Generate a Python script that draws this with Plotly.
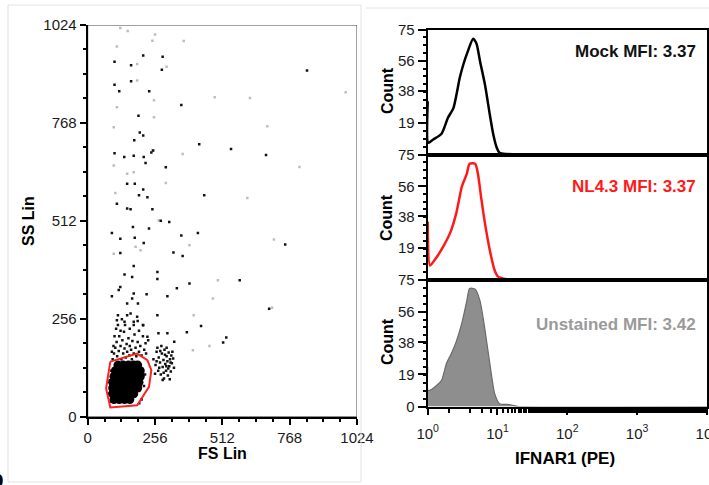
import plotly.graph_objects as go

W, H = 709, 485

# ---- scatter (FS Lin vs SS Lin) ----
# dense core of the gated population
core_fs = [100, 120, 140, 160,
           95, 115, 135, 155, 175,
           95, 115, 135, 155, 175, 190,
           95, 115, 135, 155, 175, 195,
           100, 120, 140, 160, 180, 200,
           105, 125, 145, 165, 185, 200,
           115, 135, 155, 175, 190]
core_ss = [45, 45, 45, 45,
           60, 60, 60, 60, 60,
           75, 75, 75, 75, 75, 75,
           90, 90, 90, 90, 90, 90,
           105, 105, 105, 105, 105, 105,
           120, 120, 120, 120, 120, 120,
           135, 135, 135, 135, 135]

# cells around the core and the small cluster to its right
near_fs = [250, 258, 262, 268, 270, 275, 278, 282, 285, 288, 290, 292, 295, 298, 300,
           303, 305, 308, 310, 313, 316, 318, 320, 325, 328, 256, 265, 280, 300, 312,
           285, 272, 294, 306, 262, 276, 289, 299, 315, 322,
           95, 100, 105, 110, 112, 118, 120, 125, 128, 132, 135, 138, 140, 145, 148,
           150, 155, 158, 160, 165, 168, 170, 175, 178, 182, 185, 190, 195, 200, 205,
           210, 215, 220, 102, 108, 115, 125, 98, 92, 142, 160, 175, 195, 130, 115,
           150, 190, 210, 222, 230, 82, 84, 88, 214, 218, 205, 90, 196]
near_ss = [150, 135, 170, 120, 155, 142, 110, 165, 130, 148, 100, 175, 138, 120, 158,
           145, 108, 168, 132, 150, 118, 160, 140, 152, 128, 112, 180, 185, 180, 98,
           96, 128, 162, 126, 145, 172, 115, 132, 142, 170,
           150, 165, 180, 195, 158, 172, 210, 185, 150, 200, 165, 222, 178, 155, 190,
           170, 205, 160, 185, 175, 150, 198, 165, 215, 180, 158, 195, 170, 185, 160,
           210, 175, 192, 210, 230, 240, 225, 185, 170, 240, 230, 240, 225, 255, 265,
           265, 250, 240, 165, 200, 60, 95, 40, 80, 110, 45, 120, 35]

# sparse events
spark_fs = [102, 211, 285, 282, 165, 102, 120, 234, 165, 356, 834, 193, 211, 198, 177,
            424, 545, 678, 102, 139, 175, 213, 220, 297, 249, 242, 150, 179, 211, 195,
            227, 443, 111, 150, 163, 246, 278, 310, 92, 124, 172, 179, 213, 233, 356,
            419, 751, 326, 361, 124, 175, 169, 140, 265, 265, 387, 578, 118, 175, 169,
            150, 191, 224, 339, 92, 124, 303, 690, 163, 175, 140, 188, 211, 265, 111,
            377, 431, 515, 527, 303, 269, 329, 227]
spark_ss = [928, 944, 941, 907, 919, 868, 851, 851, 877, 815, 905, 787, 735, 743, 723,
            712, 700, 684, 689, 679, 682, 679, 663, 652, 696, 691, 609, 609, 594, 579,
            574, 579, 557, 544, 542, 542, 512, 509, 480, 465, 496, 468, 454, 492, 474,
            480, 450, 429, 420, 428, 394, 365, 372, 378, 360, 348, 357, 331, 322, 309,
            296, 296, 320, 336, 315, 339, 315, 282, 270, 248, 248, 261, 239, 265, 252,
            221, 237, 194, 207, 218, 218, 196, 209]

faint_fs = [124, 152, 256, 365, 111, 246, 188, 300, 188, 483, 617, 981, 252, 111, 252,
            683, 99, 246, 361, 805, 99, 150, 175, 297, 607, 105, 708, 270, 182, 201,
            99, 387, 495, 476, 403, 463, 400, 701]
faint_ss = [1016, 1008, 999, 982, 968, 983, 922, 915, 879, 835, 833, 848, 827, 809, 783,
            759, 757, 696, 687, 653, 657, 635, 639, 611, 572, 585, 463, 513, 444, 435,
            426, 448, 357, 309, 265, 185, 174, 285]

# gate polygon
gate_fs = [86, 188, 227, 242, 233, 188, 86, 70, 86]
gate_ss = [144, 165, 148, 122, 78, 30, 24, 74, 144]

# ---- histograms (IFNAR1 PE) ----
mock_x = [1.00, 1.02, 1.20, 1.58, 1.95, 2.34, 2.88, 3.24, 3.80, 4.47, 5.01, 5.62,
          6.61, 7.76, 8.71, 9.77, 10.7, 13.5, 20, 10000]
mock_y = [32, 7, 9, 12.5, 22, 28, 46, 54, 62.5, 69.5, 66.5, 56,
          42, 24, 12, 4, 1, 0.3, 0, 0]

nl43_x = [1.00, 1.08, 1.35, 1.66, 2.09, 2.57, 3.09, 3.63, 3.98, 4.79, 5.25, 5.89,
          6.61, 7.76, 9.12, 10.2, 13.5, 20, 10000]
nl43_y = [35, 8.7, 13.8, 19.8, 28, 40, 56, 63.4, 69.5, 69.5, 63.4, 48,
          34, 17.8, 5.7, 2, 0.5, 0, 0]

unst_x = [1.00, 1.01, 1.07, 1.35, 1.58, 1.86, 2.19, 2.57, 3.09, 3.63, 3.98, 4.79,
          5.62, 6.61, 7.76, 9.12, 10.7, 14.8, 20, 10000]
unst_y = [23.6, 9.6, 9.6, 12.6, 15.6, 25.6, 31.6, 38.6, 49.6, 62.6, 70, 69.6,
          62.6, 45.6, 25.6, 7.6, 1.6, 1.2, 0, 0]

count_ticks = [0, 19, 38, 56, 75]
lin_ticks = [0, 256, 512, 768, 1024]
log_ticks = [1, 10, 100, 1000, 10000]
log_text = ["10<sup>0</sup>", "10<sup>1</sup>", "10<sup>2</sup>", "10<sup>3</sup>", "10<sup>4</sup>"]

labels = ["Mock MFI: 3.37", "NL4.3 MFI: 3.37", "Unstained MFI: 3.42"]
label_colors = ["#111111", "#ff1a1a", "#9a9a9a"]

FONT = "Arial, Liberation Sans, sans-serif"


def px_x(v):
    return v / W


def px_y(v):
    return 1 - v / H


def label(text, x, y, size=16, color="#000", angle=0, xanchor="center", yanchor="middle"):
    fig.add_annotation(text=text, textangle=angle, xref="paper", yref="paper",
                       x=px_x(x), y=px_y(y), xanchor=xanchor, yanchor=yanchor,
                       showarrow=False, font=dict(family=FONT, size=size, color=color))


fig = go.Figure()

fig.add_trace(go.Scatter(x=faint_fs, y=faint_ss, mode="markers", xaxis="x", yaxis="y",
                         marker=dict(color="#bdbdbd", size=2.5, symbol="square"), hoverinfo="skip"))
fig.add_trace(go.Scatter(x=spark_fs, y=spark_ss, mode="markers", xaxis="x", yaxis="y",
                         marker=dict(color="#111111", size=2.5, symbol="square"), hoverinfo="skip"))
fig.add_trace(go.Scatter(x=near_fs, y=near_ss, mode="markers", xaxis="x", yaxis="y",
                         marker=dict(color="#111111", size=2.5, symbol="square"), hoverinfo="skip"))
fig.add_trace(go.Scatter(x=core_fs, y=core_ss, mode="markers", xaxis="x", yaxis="y",
                         marker=dict(color="#000000", size=9), hoverinfo="skip"))
fig.add_trace(go.Scatter(x=gate_fs, y=gate_ss, mode="lines", xaxis="x", yaxis="y",
                         line=dict(color="#ff2020", width=2), hoverinfo="skip"))

fig.add_trace(go.Scatter(x=mock_x, y=mock_y, mode="lines", xaxis="x2", yaxis="y2",
                         line=dict(color="#000000", width=2.5, shape="spline", smoothing=0.6),
                         hoverinfo="skip"))
fig.add_trace(go.Scatter(x=nl43_x, y=nl43_y, mode="lines", xaxis="x3", yaxis="y3",
                         line=dict(color="#ff1a1a", width=2.5, shape="spline", smoothing=0.6),
                         hoverinfo="skip"))
fig.add_trace(go.Scatter(x=unst_x, y=unst_y, mode="lines", xaxis="x4", yaxis="y4",
                         fill="tozeroy", fillcolor="#8e8e8e",
                         line=dict(color="#6a6a6a", width=1.2, shape="spline", smoothing=0.6),
                         hoverinfo="skip"))

tickfont = dict(family=FONT, size=15, color="#1a1a1a")

scatter_axis = dict(range=[0, 1024], tickvals=lin_ticks, ticks="outside", ticklen=6,
                    tickwidth=1.5, tickcolor="#000", linecolor="#000", linewidth=2,
                    showgrid=False, zeroline=False, tickfont=tickfont, automargin=False,
                    minor=dict(dtick=64, tick0=0, ticks="outside", ticklen=3, tickcolor="#000"))

fig.update_layout(
    width=W, height=H, margin=dict(l=0, r=0, t=0, b=0),
    paper_bgcolor="white", plot_bgcolor="white", showlegend=False,
    xaxis=dict(scatter_axis, domain=[px_x(87.7), px_x(357)], anchor="y"),
    yaxis=dict(scatter_axis, domain=[px_y(416.7), px_y(25)], anchor="x"),
)

# histogram panels, top to bottom
panels = [(29.5, 154.5), (154.5, 280), (280, 406.5)]
count_y = [91, 218, 342]
mfi_y = [52, 187, 324]
for i, (top, bot) in enumerate(panels):
    n = i + 2
    last = i == 2
    fig.update_layout({
        f"xaxis{n}": dict(type="log", range=[0, 4.002], domain=[px_x(427.7), px_x(707)],
                          anchor=f"y{n}", tickvals=log_ticks, ticktext=log_text,
                          showticklabels=last, ticks="outside" if last else "",
                          ticklen=6, tickwidth=1.5, tickcolor="#000", automargin=False,
                          ticklabelstandoff=6, ticklabeloverflow="allow",
                          minor=dict(ticks="outside" if last else "", ticklen=4, tickcolor="#000"),
                          linecolor="#000", linewidth=2.2, mirror=True,
                          showgrid=False, zeroline=False, tickfont=dict(tickfont, size=15)),
        f"yaxis{n}": dict(range=[0, 75], domain=[px_y(bot), px_y(top)], anchor=f"x{n}",
                          tickvals=count_ticks if last else count_ticks[1:],
                          ticks="outside", ticklen=8, tickwidth=1.5, tickcolor="#000",
                          minor=dict(dtick=4.6875, tick0=0, ticks="outside", ticklen=3, tickcolor="#000"),
                          linecolor="#000", linewidth=2.2, mirror=True, automargin=False,
                          showgrid=False, zeroline=False, tickfont=tickfont),
    })
    label("<b>Count</b>", 387, count_y[i], angle=-90)
    label(f"<b>{labels[i]}</b>", 698, mfi_y[i], size=17, color=label_colors[i], xanchor="right")

# axis titles
label("<b>SS Lin</b>", 29, 221, angle=-90)
label("<b>FS Lin</b>", 222, 453)
label("<b>IFNAR1 (PE)</b>", 565, 458, size=17)
# cropped panel letter at the bottom-left
label("<b>b</b>", 6, 463, size=24, xanchor="right", yanchor="top")

# thin box on the scatter plot and the light panel frames
fig.add_shape(type="rect", xref="x", yref="y", x0=0, x1=1024, y0=0, y1=1024,
              line=dict(color="#444", width=1), layer="below")
fig.add_shape(type="rect", xref="paper", yref="paper", x0=px_x(8), x1=px_x(361),
              y0=px_y(482), y1=px_y(5), line=dict(color="#e2e2e2", width=1))
fig.add_shape(type="line", xref="paper", yref="paper", x0=px_x(366), x1=1,
              y0=px_y(8), y1=px_y(8), line=dict(color="#e2e2e2", width=1))

fig.write_html("out.html", config={"displayModeBar": False},
               post_script="document.body.style.margin='0px';")
